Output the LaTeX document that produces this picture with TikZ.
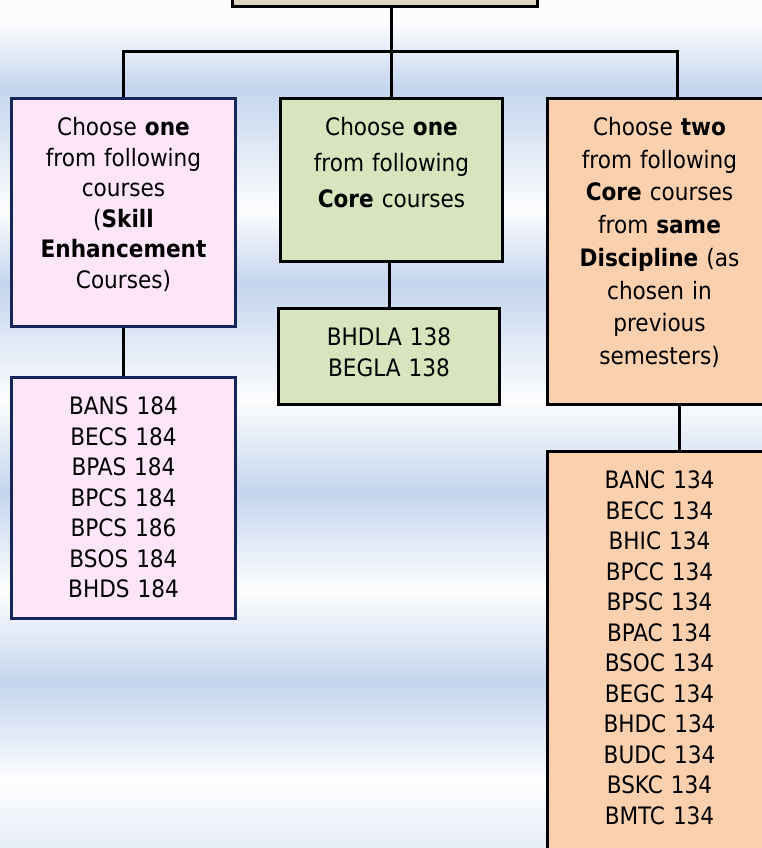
\documentclass[tikz,border=0pt]{standalone}
\usepackage{fontspec}
\setmainfont{DejaVu Sans Condensed}
\usetikzlibrary{positioning}
\definecolor{bgblue}{HTML}{C4D5EE}
\definecolor{sembeige}{HTML}{DDD6BF}
\definecolor{skillpink}{HTML}{FDE6FA}
\definecolor{skillnavy}{HTML}{14265A}
\definecolor{coregreen}{HTML}{D7E4BD}
\definecolor{discpeach}{HTML}{FAD0AE}

\tikzset{
  course/.style={rectangle, draw=black, line width=3pt, anchor=north west, inner sep=0pt, align=center, text height=37pt, font=\fontsize{24}{30.5}\selectfont},
  skill/.style={course, draw=skillnavy, fill=skillpink},
  core/.style={course, fill=coregreen},
  disc/.style={course, fill=discpeach},
  wire/.style={line width=3pt, draw=black}
}

\begin{document}
\begin{tikzpicture}[x=1pt, y=-1pt]
\useasboundingbox (0,0) rectangle (762,848);
% striped background
\foreach \ya/\pa/\yb/\pb in {0/8/25/8, 25/8/88/100, 88/100/210/5, 210/5/283/100, 283/100/400/5, 400/5/492/100, 492/100/590/3, 590/3/682/100, 682/100/782/3, 782/3/848/45}
  \shade[top color=bgblue!\pa!white, bottom color=bgblue!\pb!white] (0,\ya) rectangle (762,\yb+0.5);

% semester box (cut off at the top)
\node[rectangle, draw=black, line width=3pt, fill=sembeige, minimum width=305pt, minimum height=47pt, inner sep=0pt] (sem) at (384.5,-16.5) {};

% header boxes
\node[skill, text width=224pt, text depth=191pt] (skillhdr) at (10,97) {Choose \textbf{one}\\from following\\courses\\(\textbf{Skill}\\\textbf{Enhancement}\\Courses)};
\node[core, text width=222pt, text depth=126pt, font=\fontsize{24}{36}\selectfont] (corehdr) at (279,97) {Choose \textbf{one}\\from following\\\textbf{Core} courses};
\node[disc, text width=224pt, text depth=269pt, font=\fontsize{24}{32.7}\selectfont] (dischdr) at (546,97) {Choose \textbf{two}\\from following\\\textbf{Core} courses\\from \textbf{same}\\\textbf{Discipline} (as\\chosen in\\previous\\semesters)};

% course lists
\node[skill, text width=224pt, text depth=204pt] (skilllist) at (10,376) {BANS 184\\BECS 184\\BPAS 184\\BPCS 184\\BPCS 186\\BSOS 184\\BHDS 184};
\node[core, text width=221pt, text depth=59pt] (corelist) at (277,307) {BHDLA 138\\BEGLA 138};
\node[disc, text width=224pt, text depth=383pt] (disclist) at (546,450) {BANC 134\\BECC 134\\BHIC 134\\BPCC 134\\BPSC 134\\BPAC 134\\BSOC 134\\BEGC 134\\BHDC 134\\BUDC 134\\BSKC 134\\BMTC 134};

% connectors
\coordinate (split) at (390,52);
\draw[wire] (corehdr.north |- sem.south) -- (corehdr.north);
\draw[wire] (skillhdr.north) -- (skillhdr.north |- split) -- ([xshift=18pt]dischdr.north |- split) -- ([xshift=18pt]dischdr.north);
\draw[wire] (skillhdr.south) -- (skilllist.north);
\draw[wire] (corelist.north |- corehdr.south) -- (corelist.north);
\draw[wire] ([xshift=20pt]dischdr.south) -- ([xshift=20pt]disclist.north);
\end{tikzpicture}
\end{document}
